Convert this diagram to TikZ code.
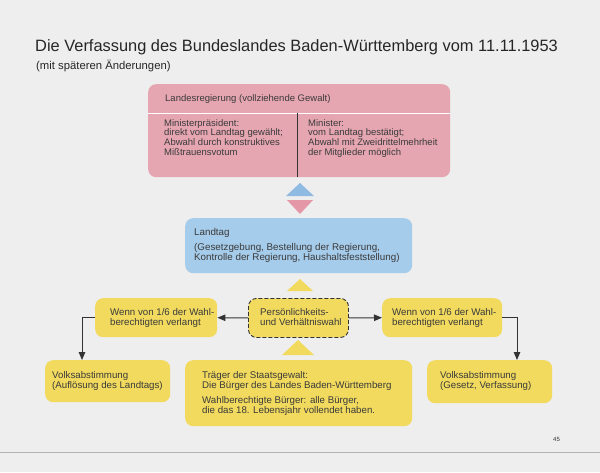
\documentclass[tikz,border=0pt]{standalone}
\usepackage{fontspec}
\setmainfont{Liberation Sans}
\usetikzlibrary{arrows.meta}
\definecolor{bg}{HTML}{EEEEEE}
\definecolor{redbox}{HTML}{E6A6B1}
\definecolor{bluebox}{HTML}{A6CCEB}
\definecolor{yelbox}{HTML}{F2DA5E}
\definecolor{bluetri}{HTML}{8FBAE2}
\definecolor{redtri}{HTML}{E497A6}
\definecolor{txt}{HTML}{3A3A3A}
\definecolor{linec}{HTML}{333333}
\newcommand{\tlns}[1]{\begin{tabular}[t]{@{}l@{}}#1\end{tabular}}
\tikzset{
  boxbase/.style={rounded corners=8pt, inner sep=0pt, anchor=north west},
  redb/.style={boxbase, fill=redbox},
  blueb/.style={boxbase, fill=bluebox},
  yelb/.style={boxbase, fill=yelbox},
  dashb/.style={boxbase, fill=yelbox, draw=linec, line width=0.9pt, dash pattern=on 4pt off 2pt},
  t/.style={anchor=base west, inner sep=0pt, text=txt},
  tred/.style={t, font=\fontsize{9.5}{9.8}\selectfont},
  tblue/.style={t, font=\fontsize{9.8}{10.6}\selectfont},
  tyel/.style={t, font=\fontsize{9.7}{10.8}\selectfont},
  arr/.style={draw=linec, line width=1pt, -{Triangle[length=8pt,width=6.5pt]}},
}
\begin{document}
\begin{tikzpicture}[x=1pt,y=-1pt]
\fill[bg] (0,0) rectangle (600,472);
\useasboundingbox (0,0) rectangle (600,472);
\draw[color=black!30, line width=1pt] (0,452) -- (600,452);

% title
\node[anchor=base west, inner sep=0pt, text=black!85, font=\fontsize{16.4}{18}\selectfont] (title) at (35,51) {Die Verfassung des Bundeslandes Baden-Württemberg vom 11.11.1953};
\node[anchor=base west, inner sep=0pt, text=black!85, font=\fontsize{11.3}{12}\selectfont] (sub) at (36,69) {(mit späteren Änderungen)};

% red box
\node[redb, minimum width=302pt, minimum height=93pt] (reg) at (148,84) {};
\draw[white, line width=1pt] (148,113) -- (450,113);
\draw[linec, line width=0.8pt] (297,113) -- (297,177);
\node[tred] (regh) at (165,101) {Landesregierung (vollziehende Gewalt)};
\node[tred] (regl) at (164,126) {\tlns{Ministerpräsident:\\direkt vom Landtag gewählt;\\Abwahl durch konstruktives\\Mißtrauensvotum}};
\node[tred] (regr) at (308,126) {\tlns{Minister:\\vom Landtag bestätigt;\\Abwahl mit Zweidrittelmehrheit\\der Mitglieder möglich}};

% small triangles
\fill[bluetri] (300,183) -- (314,196) -- (286,196) -- cycle;
\fill[redtri] (287,200) -- (313,200) -- (300,214) -- cycle;

% blue box
\node[blueb, minimum width=227pt, minimum height=55pt] (lt) at (185,218) {};
\node[tblue] (ltt) at (194,235) {\tlns{Landtag\\[4.5pt](Gesetzgebung, Bestellung der Regierung,\\Kontrolle der Regierung, Haushaltsfeststellung)}};

% yellow triangles
\fill[yelbox] (300,279) -- (313,291) -- (287,291) -- cycle;
\fill[yelbox] (298,340) -- (314,355) -- (282,355) -- cycle;

% middle row
\node[yelb, minimum width=122pt, minimum height=39pt] (lb) at (95,298) {};
\node[tyel] (lbt) at (110,315) {\tlns{Wenn von 1/6 der Wahl-\\berechtigten verlangt}};
\node[dashb, minimum width=100pt, minimum height=39pt] (mb) at (248,298) {};
\node[tyel] (mbt) at (260,315) {\tlns{Persönlichkeits-\\und Verhältniswahl}};
\node[yelb, minimum width=120pt, minimum height=39pt] (rb) at (382,298) {};
\node[tyel] (rbt) at (392,315) {\tlns{Wenn von 1/6 der Wahl-\\berechtigten verlangt}};

% bottom row
\node[yelb, minimum width=125pt, minimum height=42pt] (bl) at (45,360) {};
\node[tyel] (blt) at (52,378) {\tlns{Volksabstimmung\\(Auflösung des Landtags)}};
\node[yelb, minimum width=227pt, minimum height=66pt] (bm) at (185,360) {};
\node[tyel] (bmt) at (202,378) {\tlns{Träger der Staatsgewalt:\\Die Bürger des Landes Baden-Württemberg\\[3.4pt]Wahlberechtigte Bürger: alle Bürger,\\die das 18. Lebensjahr vollendet haben.}};
\node[yelb, minimum width=125pt, minimum height=43pt] (br) at (427,360) {};
\node[tyel] (brt) at (440,378) {\tlns{Volksabstimmung\\(Gesetz, Verfassung)}};

% connectors
\coordinate (lc) at (82,360);
\coordinate (rc) at (517,360);
\draw[arr] (mb.west) -- (lb.east);
\draw[arr] (mb.east) -- (rb.west);
\draw[arr] (lb.west) -| (lc);
\draw[arr] (rb.east) -| (rc);

% page number
\node[anchor=base west, inner sep=0pt, font=\fontsize{6}{7}\selectfont, text=black!80] (pg) at (553,441) {45};
\end{tikzpicture}
\end{document}
